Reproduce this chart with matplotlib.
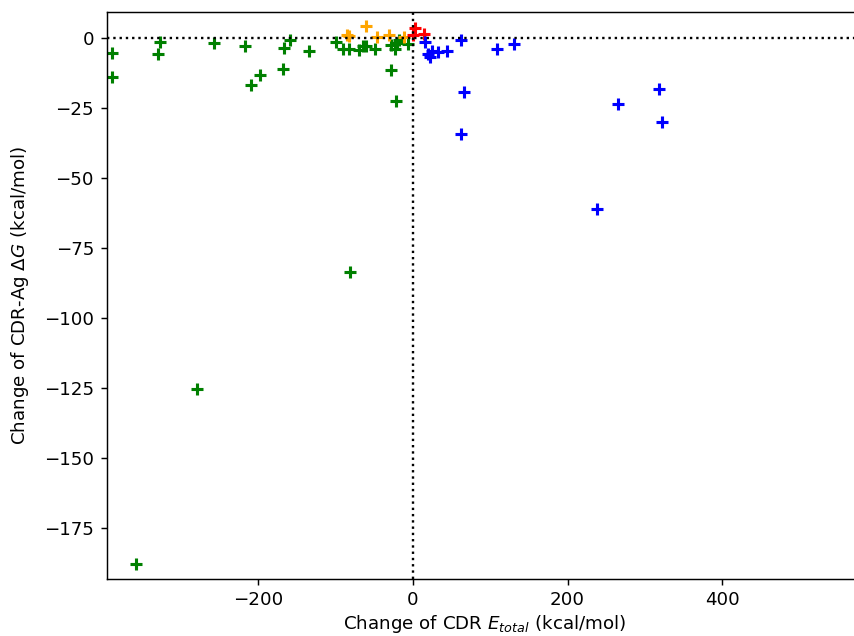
import matplotlib
matplotlib.use('Agg')
import matplotlib.pyplot as plt

# change of CDR E_total (x) vs change of CDR-Ag dG (y), grouped by colour
green_x = [-389.7, -388.8, -329.9, -327.4, -257.7, -217.2, -198.3, -209.4, -168.1, -166.1,
           -158.7, -133.8, -99.4, -90.7, -82.2, -69.3, -64.9, -60.6, -49.0, -28.8,
           -23.2, -21.0, -17.7, -6.1, -28.4, -21.9, -358.7, -278.7, -81.3]
green_y = [-5.25, -13.8, -5.5, -1.5, -1.8, -2.9, -13.2, -16.7, -11.0, -3.3,
           -0.5, -4.5, -1.5, -4.0, -3.7, -4.3, -2.9, -2.75, -4.0, -2.4,
           -4.0, -1.7, -0.7, -1.9, -11.2, -22.4, -187.9, -125.4, -83.6]

orange_x = [-85.5, -82.2, -60.6, -46.8, -30.6, -11.2]
orange_y = [1.1, 0.8, 4.4, 0.5, 1.0, 0.5]

red_x = [2.6, 0.4, 14.6]
red_y = [3.5, 1.1, 1.4]

blue_x = [15.5, 19.7, 21.9, 24.1, 32.6, 43.5, 62.6, 109.0, 130.3, 66.5,
          62.5, 265.0, 318.0, 322.0, 238.0]
blue_y = [-1.3, -5.5, -6.7, -4.5, -4.9, -4.5, -0.5, -3.75, -2.1, -19.1,
          -34.3, -23.5, -18.0, -30.0, -61.0]

fig = plt.figure(figsize=(854/131, 636/131), dpi=131)
ax = fig.add_axes([0.1249, 0.0901, 0.8856, 0.8911])

ax.axhline(0, color='black', linestyle=':', linewidth=1.3)
ax.axvline(0, color='black', linestyle=':', linewidth=1.3)

ax.scatter(green_x, green_y, marker='+', color='green', s=40, linewidths=1.7)
ax.scatter(orange_x, orange_y, marker='+', color='orange', s=40, linewidths=1.7)
ax.scatter(red_x, red_y, marker='+', color='red', s=40, linewidths=1.7)
ax.scatter(blue_x, blue_y, marker='+', color='blue', s=40, linewidths=1.7)

ax.set_xlim(-396, 582)
ax.set_ylim(-193.1, 9.4)
ax.set_xticks([-200, 0, 200, 400])
ax.set_xlabel('Change of CDR $E_{total}$ (kcal/mol)', labelpad=2)
ax.set_ylabel('Change of CDR-Ag $\\Delta G$ (kcal/mol)', labelpad=7)

fig.savefig('out.png', dpi=131)
